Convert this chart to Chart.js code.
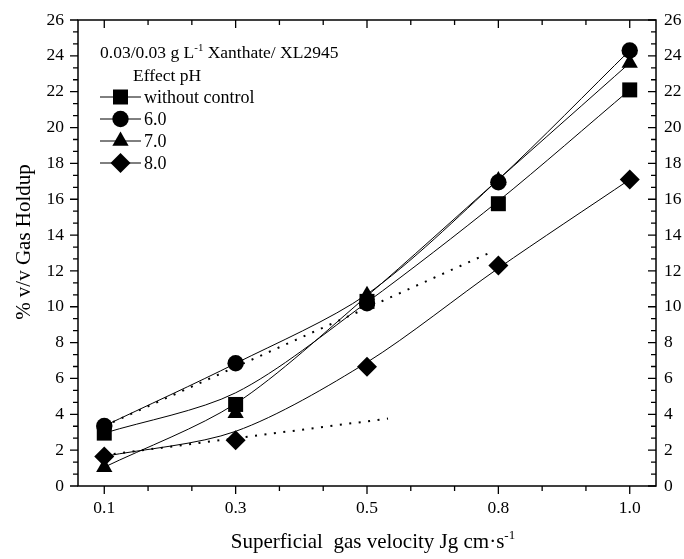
<!DOCTYPE html>
<html>
<head>
<meta charset="utf-8">
<script src="https://cdn.jsdelivr.net/npm/chart.js@4.4.0/dist/chart.umd.min.js"></script>
<style>
  html, body { margin: 0; padding: 0; background: #fff; }
  #wrap { width: 684px; height: 559px; }
</style>
</head>
<body>
<div id="wrap"><canvas id="holdupChart" width="684" height="559"></canvas></div>
<script>
// superficial gas velocity, cm/s (the axis spaces them evenly)
const velocities = ['0.1', '0.3', '0.5', '0.8', '1.0'];

// measured gas holdup, % v/v
const noControl = [2.95, 4.55, 10.3, 15.75, 22.1];
const ph6 = [3.35, 6.85, 10.2, 16.95, 24.3];
const ph7 = [1.05, 4.05, 10.65, 17.05, 23.6];
const ph8 = [1.65, 2.55, 6.65, 12.3, 17.1];

// smoothed connecting curves, as they run in the figure
const noControlCurve = [2.95, 5.2, 10.25, 15.9, 22.1];
const ph6Curve = [3.35, 6.84, 10.7, 17.1, 24.3];
const ph7Curve = [1.05, 4.6, 10.6, 17.1, 23.6];
const ph8Curve = [1.65, 3.05, 6.9, 12.15, 17.1];

// dotted guide lines (x in category index units)
const guideUpperX = [0, 2.93];
const guideUpperY = [3.35, 13.0];
const guideLowerX = [0, 2.16];
const guideLowerY = [1.72, 3.76];

const FONT = "'Liberation Serif', 'Times New Roman', serif";

function toPoints(xs, ys) {
    return ys.map((v, i) => ({x: xs ? xs[i] : i, y: v}));
}

function markerSet(label, values, style, radius) {
    return {
        label: label,
        data: toPoints(null, values),
        showLine: false,
        pointStyle: style,
        pointRadius: radius,
        pointBackgroundColor: '#000',
        pointBorderColor: '#000',
        pointBorderWidth: 0,
        order: 0,
        isMarker: true
    };
}

function curveSet(values) {
    return {
        data: toPoints(null, values),
        borderColor: '#000',
        borderWidth: 1,
        pointRadius: 0,
        tension: 0.3,
        order: 1
    };
}

function guideSet(xs, ys) {
    return {
        data: toPoints(xs, ys),
        borderColor: '#000',
        borderWidth: 2,
        borderDash: [2, 7.5],
        pointRadius: 0,
        order: 1
    };
}

// box round the plot with Origin-style ticks on all four sides
const frameTicks = {
    id: 'frameTicks',
    afterDatasetsDraw(chart) {
        const {ctx, chartArea: a, scales} = chart;
        const x = scales.x, y = scales.y;
        ctx.save();
        ctx.strokeStyle = '#000';
        ctx.lineWidth = 1.5;
        ctx.strokeRect(a.left, a.top, a.right - a.left, a.bottom - a.top);
        ctx.lineWidth = 1.3;
        ctx.beginPath();
        for (let k = 0; k <= 12; k++) {
            const px = x.getPixelForValue(k / 3);
            const len = k % 3 === 0 ? 8 : 5;
            ctx.moveTo(px, a.bottom); ctx.lineTo(px, a.bottom + len);
            ctx.moveTo(px, a.top); ctx.lineTo(px, a.top + len);
        }
        for (let k = 0; k <= 39; k++) {
            const py = y.getPixelForValue(k * 2 / 3);
            const len = k % 3 === 0 ? 8 : 5;
            ctx.moveTo(a.left, py); ctx.lineTo(a.left - len, py);
            ctx.moveTo(a.right, py); ctx.lineTo(a.right - len, py);
        }
        ctx.stroke();
        ctx.restore();
    }
};

// text run with superscripts: parts = [[text, isSup], ...]
function runWidth(ctx, parts, size) {
    let w = 0;
    parts.forEach(p => {
        ctx.font = (p[1] ? size * 0.62 : size) + 'px ' + FONT;
        w += ctx.measureText(p[0]).width;
    });
    return w;
}
function drawRun(ctx, parts, x, y, size) {
    parts.forEach(p => {
        ctx.font = (p[1] ? size * 0.62 : size) + 'px ' + FONT;
        ctx.fillText(p[0], x, p[1] ? y - size * 0.42 : y);
        x += ctx.measureText(p[0]).width;
    });
}

const textLayer = {
    id: 'textLayer',
    afterDraw(chart) {
        const {ctx, chartArea: a} = chart;
        ctx.save();
        ctx.fillStyle = '#000';
        ctx.strokeStyle = '#000';
        ctx.textAlign = 'left';
        ctx.textBaseline = 'alphabetic';

        // legend header
        drawRun(ctx, [['0.03/0.03 g L', false], ['-1', true], [' Xanthate/ XL2945', false]], 100, 58, 17.5);
        drawRun(ctx, [['Effect pH', false]], 133, 81, 17.5);

        // legend rows
        let row = 0;
        chart.data.datasets.forEach(ds => {
            if (!ds.isMarker) return;
            const cy = 97 + row * 22;
            ctx.lineWidth = 1;
            ctx.beginPath();
            ctx.moveTo(100, cy); ctx.lineTo(141, cy);
            ctx.stroke();
            Chart.helpers.drawPoint(ctx, {pointStyle: ds.pointStyle, radius: ds.pointRadius, rotation: 0, borderWidth: 0}, 120.5, cy);
            ctx.textBaseline = 'middle';
            ctx.font = '18px ' + FONT;
            ctx.fillText(ds.label, 144, cy + 1);
            ctx.textBaseline = 'alphabetic';
            row++;
        });

        // x axis title
        const xParts = [['Superficial  gas velocity Jg cm\u00b7s', false], ['-1', true]];
        const w = runWidth(ctx, xParts, 21);
        drawRun(ctx, xParts, (a.left + a.right) / 2 + 6 - w / 2, 548, 21);

        // y axis title
        ctx.translate(24, 242);
        ctx.rotate(-Math.PI / 2);
        ctx.textAlign = 'center';
        ctx.textBaseline = 'middle';
        ctx.font = '21px ' + FONT;
        ctx.fillText('% v/v Gas Holdup', 0, 0);
        ctx.restore();
    }
};

const tickFont = {family: FONT, size: 17.5};

const holdupChart = new Chart(document.getElementById('holdupChart'), {
    type: 'line',
    data: {
        datasets: [
            markerSet('without control', noControl, 'rect', 10.6),
            markerSet('6.0', ph6, 'circle', 8.2),
            markerSet('7.0', ph7, 'triangle', 9.4),
            markerSet('8.0', ph8, 'rectRot', 10),
            curveSet(noControlCurve),
            curveSet(ph6Curve),
            curveSet(ph7Curve),
            curveSet(ph8Curve),
            guideSet(guideUpperX, guideUpperY),
            guideSet(guideLowerX, guideLowerY)
        ]
    },
    options: {
        responsive: false,
        animation: false,
        layout: {padding: {top: 20, left: 0, right: 0, bottom: 0}},
        plugins: {
            legend: {display: false},
            tooltip: {enabled: false}
        },
        scales: {
            x: {
                type: 'linear',
                position: 'bottom',
                min: -0.2,
                max: 4.2,
                afterBuildTicks: s => { s.ticks = velocities.map((v, i) => ({value: i})); },
                afterFit: s => { s.height = 73; },
                ticks: {
                    color: '#000',
                    font: tickFont,
                    padding: 4,
                    maxRotation: 0,
                    callback: v => velocities[v]
                },
                grid: {display: false},
                border: {display: false}
            },
            y: {
                position: 'left',
                min: 0,
                max: 26,
                afterFit: s => { s.width = 78; },
                ticks: {stepSize: 2, color: '#000', font: tickFont, padding: 6},
                grid: {display: false},
                border: {display: false}
            },
            y2: {
                position: 'right',
                min: 0,
                max: 26,
                afterFit: s => { s.width = 28; },
                ticks: {stepSize: 2, color: '#000', font: tickFont, padding: 0},
                grid: {display: false},
                border: {display: false}
            }
        }
    },
    plugins: [frameTicks, textLayer]
});
</script>
</body>
</html>
